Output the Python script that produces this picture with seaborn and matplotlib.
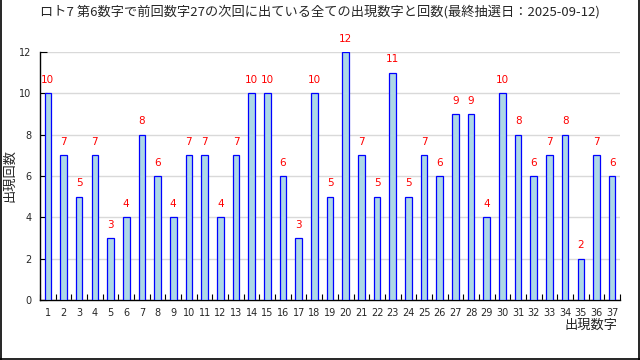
import numpy as np
import pandas as pd
import matplotlib
matplotlib.use('Agg')
import matplotlib.pyplot as plt
from matplotlib.lines import Line2D
import seaborn as sns

numbers = [str(i) for i in range(1, 38)]
counts = [10, 7, 5, 7, 3, 4, 8, 6, 4, 7, 7, 4, 7, 10, 10, 6, 3, 10, 5, 12,
          7, 5, 11, 5, 7, 6, 9, 9, 4, 10, 8, 6, 7, 8, 2, 7, 6]
title = 'ロト7 第6数字で前回数字27の次回に出ている全ての出現数字と回数(最終抽選日：2025-09-12)'

sns.set_theme(style='white')
plt.rcParams['font.family'] = ['Noto Sans CJK JP', 'DejaVu Sans']

df = pd.DataFrame({'num': numbers, 'count': counts})

fig = plt.figure(figsize=(6.4, 3.6), dpi=100)
ax = fig.add_axes([40 / 640, 1 - 300 / 360, 580 / 640, 248 / 360])

sns.barplot(data=df, x='num', y='count', ax=ax, color='#add8e6', saturation=1,
            edgecolor='blue', linewidth=0.9, width=0.42, zorder=3)

ax.set_ylim(0, 12)
ax.set_xlim(-0.5, len(numbers) - 0.5)
ax.set_yticks(range(0, 13, 2))
ax.yaxis.grid(True, color='#d9d9d9', linewidth=1, zorder=0)
ax.set_axisbelow(True)

# ticks on category boundaries, labels at centres
ax.set_xticks(np.arange(len(numbers)))
ax.set_xticklabels(numbers, fontsize=7, family='DejaVu Sans')
ax.set_xticks(np.arange(len(numbers) + 1) - 0.5, minor=True)
ax.tick_params(axis='x', which='major', length=0, pad=6)
ax.tick_params(axis='x', which='minor', direction='in', length=4, width=0.8, color='black', bottom=True)
ax.tick_params(axis='y', direction='in', length=5, width=0.8, color='black', labelsize=7, left=True, pad=6)
for lab in ax.get_yticklabels():
    lab.set_family('DejaVu Sans')

for s in ['top', 'right']:
    ax.spines[s].set_visible(False)
for s in ['left', 'bottom']:
    ax.spines[s].set_color('black')
    ax.spines[s].set_linewidth(1.0)

for i, v in enumerate(counts):
    ax.text(i, v + 0.4, str(v), ha='center', va='bottom', color='red',
            fontsize=7.5, family='DejaVu Sans', clip_on=False)

ax.set_xlabel('')
ax.set_ylabel('')
fig.text(10 / 640, 1 - 176 / 360, '出現回数', rotation=90, ha='center', va='center', fontsize=9.5)
fig.text(618 / 640, 1 - 325 / 360, '出現数字', ha='right', va='center', fontsize=9.5, color='#222222')
fig.text(320 / 640, 1 - 12 / 360, title, ha='center', va='center', fontsize=9.5)

# frame around the picture (left, right, bottom)
for xs, ys in [([0.001, 0.001], [0, 1]), ([0.998, 0.998], [0, 1]), ([0, 1], [0.002, 0.002])]:
    fig.add_artist(Line2D(xs, ys, color='black', linewidth=1.2, transform=fig.transFigure))

fig.savefig('out.png', dpi=100)
